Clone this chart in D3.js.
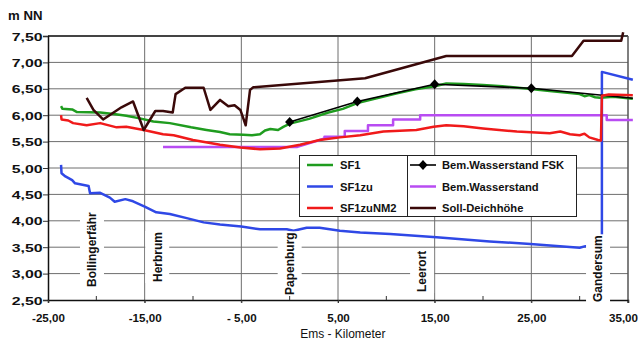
<!DOCTYPE html>
<html>
<head>
<meta charset="utf-8">
<script src="https://cdn.jsdelivr.net/npm/d3@7"></script>
<style>
  html, body { margin: 0; padding: 0; background: #fff; }
  svg { display: block; font-family: "Liberation Sans", Arial, sans-serif; }
</style>
</head>
<body>
<svg id="chart" width="638" height="340"></svg>
<script>
// Axis ticks
const yTicks = [2.5, 3.0, 3.5, 4.0, 4.5, 5.0, 5.5, 6.0, 6.5, 7.0, 7.5];
const yTickLabels = ["2,50", "3,00", "3,50", "4,00", "4,50", "5,00", "5,50", "6,00", "6,50", "7,00", "7,50"];
const xTicks = [-25, -15, -5, 5, 15, 25, 35];
const xTickLabels = ["-25,00", "-15,00", "- 5,00", "5,00", "15,00", "25,00", "35,00"];
const xMinorTicks = [-20, -10, 0, 10, 20, 30];

// Places along the river (Ems-km)
const stations = ["Bollingerfähr", "Herbrum", "Papenburg", "Leerort", "Gandersum"];
const stationKm = [-20.45, -13.7, 0.0, 13.7, 31.9];

// SF1 water level [km, m NN]
const sf1 = [[-23.65,6.17],[-23.5,6.12],[-22.5,6.11],[-22.0,6.06],[-19.6,6.05],[-18.0,6.02],[-16.9,5.99],
  [-15.5,5.94],[-14.1,5.88],[-12.4,5.85],[-10.2,5.77],[-8.6,5.72],[-7.2,5.68],[-6.2,5.64],[-4.8,5.63],
  [-3.9,5.62],[-3.07,5.64],[-2.55,5.71],[-2.0,5.74],[-1.2,5.72],[-0.66,5.78],[0.03,5.84],[2.0,5.93],
  [4.0,6.05],[5.5,6.12],[7.0,6.23],[9.0,6.32],[11.0,6.41],[13.0,6.49],[15.0,6.55],[16.2,6.60],[18.0,6.59],
  [20.0,6.57],[22.0,6.55],[24.7,6.50],[26.9,6.46],[29.0,6.42],[30.0,6.40],[30.5,6.36],[31.0,6.38],
  [31.6,6.34],[32.1,6.33],[33.5,6.35],[35.5,6.31]];

// SF1zu water level
const sf1zu = [[-23.65,5.06],[-23.6,4.90],[-23.2,4.84],[-22.5,4.77],[-22.2,4.71],[-20.8,4.66],[-20.65,4.52],
  [-19.6,4.53],[-18.6,4.44],[-18.1,4.36],[-17.0,4.41],[-16.2,4.37],[-15.0,4.27],[-13.8,4.16],[-12.4,4.13],
  [-10.65,4.05],[-8.9,3.97],[-7.2,3.93],[-5.0,3.89],[-3.07,3.84],[-0.3,3.84],[0.4,3.81],[1.76,3.87],
  [3.1,3.87],[5.2,3.81],[7.3,3.78],[10.4,3.75],[15.2,3.69],[20.7,3.61],[24.9,3.56],[30.0,3.49],
  [30.6,3.52],[31.07,3.50],[32.3,3.48],[32.3,6.82],[35.5,6.67]];

// SF1zuNM2 water level
const sf1zuNM2 = [[-23.65,6.00],[-23.6,5.92],[-22.9,5.90],[-22.4,5.85],[-21.0,5.81],[-19.6,5.85],[-17.9,5.77],
  [-16.9,5.78],[-15.1,5.72],[-13.1,5.64],[-12.0,5.62],[-10.0,5.53],[-7.2,5.44],[-5.1,5.39],[-3.07,5.355],
  [-1.0,5.37],[1.07,5.44],[3.1,5.53],[5.2,5.58],[7.3,5.62],[9.7,5.69],[13.1,5.72],[14.9,5.78],[16.2,5.81],
  [18.0,5.79],[20.0,5.75],[23.5,5.69],[26.9,5.66],[28.0,5.69],[29.0,5.64],[30.0,5.62],[30.5,5.65],
  [31.0,5.58],[31.9,5.53],[32.2,5.52],[32.3,6.37],[33.0,6.39],[35.5,6.38]];

// Design water level (Bem.Wasserstand)
const bemWasserstand = [[-13.1,5.40],[0.8,5.40],[3.6,5.56],[3.6,5.59],[5.7,5.59],[5.7,5.70],[8.1,5.70],
  [8.1,5.81],[10.7,5.81],[10.7,5.92],[13.5,5.92],[13.5,6.00],[32.8,6.00],[32.8,5.91],[35.5,5.91]];

// Design water level FSK
const fskKm = [0, 7, 15, 25, 35.5];
const fskVal = [5.87, 6.26, 6.585, 6.51, 6.32];
const fskMarked = [true, true, true, true, false];

// Required dike height (Soll-Deichhöhe)
const sollDeich = [[-21.0,6.33],[-20.3,6.10],[-19.3,5.92],[-17.4,6.15],[-16.2,6.26],[-15.1,5.72],[-13.9,6.08],
  [-13.1,6.08],[-12.1,6.05],[-11.8,6.40],[-10.8,6.52],[-8.9,6.52],[-8.2,6.10],[-7.2,6.29],[-6.35,6.17],
  [-5.7,6.19],[-5.1,6.10],[-4.55,5.81],[-4.1,6.48],[-3.76,6.53],[7.8,6.70],[16.2,7.12],[29.2,7.12],
  [30.4,7.41],[34.3,7.41],[34.5,7.57]];

const seriesNames = ["SF1", "SF1zu", "SF1zuNM2", "Bem.Wasserstand FSK", "Bem.Wasserstand", "Soll-Deichhöhe"];

// ---- drawing ----
const colors = {
  "SF1": "#1f9c1f", "SF1zu": "#2f48e6", "SF1zuNM2": "#f01a1a",
  "Bem.Wasserstand FSK": "#000000", "Bem.Wasserstand": "#b84cf2", "Soll-Deichhöhe": "#3a0909"
};

const svg = d3.select("#chart");
const x = d3.scaleLinear().domain([-25, 35]).range([48, 628]);
const y = d3.scaleLinear().domain([2.5, 7.5]).range([300, 36]);

// horizontal grid
svg.append("g").selectAll("line").data(yTicks.filter(v => v > 2.5 && v < 7.5)).join("line")
  .attr("x1", x(-25)).attr("x2", x(35)).attr("y1", d => y(d)).attr("y2", d => y(d))
  .attr("stroke", "#6e6e6e").attr("stroke-width", 1);
// vertical grid
svg.append("g").selectAll("line").data(xTicks.filter(v => v > -25 && v < 35)).join("line")
  .attr("x1", d => x(d)).attr("x2", d => x(d)).attr("y1", y(7.5)).attr("y2", y(2.5) + 3)
  .attr("stroke", "#6e6e6e").attr("stroke-width", 1);
// frame: top and right
svg.append("line").attr("x1", x(-25)).attr("x2", x(35)).attr("y1", y(7.5)).attr("y2", y(7.5))
  .attr("stroke", "#444").attr("stroke-width", 2);
svg.append("line").attr("x1", x(35)).attr("x2", x(35)).attr("y1", y(7.5)).attr("y2", y(2.5) + 3)
  .attr("stroke", "#555").attr("stroke-width", 1.5);

// y axis
const yAxis = svg.append("g").attr("transform", `translate(${x(-25)},0)`)
  .call(d3.axisLeft(y).tickValues(yTicks).tickSize(5).tickFormat((d, i) => yTickLabels[i]));
yAxis.select(".domain").attr("stroke", "#111").attr("stroke-width", 1.5);
yAxis.selectAll(".tick line").attr("stroke", "#333");
yAxis.selectAll(".tick text")
  .attr("x", -3.9).attr("dy", "0.35em")
  .attr("transform", "scale(1.38,1)")
  .attr("font-size", 11.5).attr("font-weight", "bold").attr("fill", "#111")
  .attr("font-family", "'Liberation Sans', Arial, sans-serif");

// x axis
const xAxis = svg.append("g").attr("transform", `translate(0,${y(2.5)})`)
  .call(d3.axisBottom(x).tickValues(xTicks).tickSize(3).tickFormat((d, i) => xTickLabels[i]));
xAxis.select(".domain").attr("stroke", "#111").attr("stroke-width", 1.5);
xAxis.selectAll(".tick line").attr("stroke", "#333");
xAxis.selectAll(".tick text")
  .attr("y", 22).attr("dy", 0)
  .attr("font-size", 11.6).attr("font-weight", "bold").attr("fill", "#111")
  .attr("font-family", "'Liberation Sans', Arial, sans-serif");
// the last label sits flush with the right edge
xAxis.selectAll(".tick text").filter(d => d === 35).attr("text-anchor", "end").attr("x", 9.5);
svg.append("g").selectAll("line").data(xMinorTicks).join("line")
  .attr("x1", d => x(d)).attr("x2", d => x(d)).attr("y1", y(2.5)).attr("y2", y(2.5) - 4)
  .attr("stroke", "#333").attr("stroke-width", 1);

// axis titles
svg.append("text").attr("x", 8).attr("y", 20).attr("font-size", 12).attr("font-weight", "bold")
  .attr("fill", "#111").attr("transform", "translate(8,0) scale(1.1,1) translate(-8,0)")
  .text("m  NN");
svg.append("text").attr("x", x(5.5)).attr("y", 338).attr("text-anchor", "middle")
  .attr("font-size", 12).attr("fill", "#111").text("Ems - Kilometer");

// series lines
const line = d3.line().x(d => x(d[0])).y(d => y(d[1]));
const fskPoints = fskKm.map((k, i) => [k, fskVal[i]]);
const diamond = "M0,-5L4.6,0L0,5L-4.6,0Z";
const layers = [
  ["Bem.Wasserstand", bemWasserstand, 2.5],
  ["SF1", sf1, 2.5],
  ["SF1zu", sf1zu, 2.5],
  ["Bem.Wasserstand FSK", fskPoints, 1.6],
  ["SF1zuNM2", sf1zuNM2, 2.5],
  ["Soll-Deichhöhe", sollDeich, 2.5]
];
const gSeries = svg.append("g");
layers.forEach(([name, data, w]) => {
  gSeries.append("path").datum(data).attr("d", line)
    .attr("fill", "none").attr("stroke", colors[name]).attr("stroke-width", w)
    .attr("stroke-linejoin", "round");
  if (name === "Bem.Wasserstand FSK") {
    gSeries.selectAll("path.diamond").data(fskPoints.filter((p, i) => fskMarked[i])).join("path")
      .attr("class", "diamond")
      .attr("d", diamond)
      .attr("transform", d => `translate(${x(d[0])},${y(d[1])})`)
      .attr("fill", "#000");
  }
});

// station labels with white backing
const stationLift = [13, 18, 5, 8, -2];
const gSt = svg.append("g");
stations.forEach((s, i) => {
  const g = gSt.append("g").attr("transform", `translate(${x(stationKm[i])},${y(2.5) - stationLift[i]}) rotate(-90)`);
  const t = g.append("text").attr("x", 0).attr("y", 4.3)
    .attr("font-size", 12).attr("font-weight", "bold").attr("fill", "#111").text(s);
  const len = t.node().getComputedTextLength();
  g.insert("rect", "text").attr("x", -1).attr("y", -12).attr("width", len + 2).attr("height", 24)
    .attr("fill", "#fff");
});

// legend
const lg = svg.append("g");
lg.append("rect").attr("x", 299.5).attr("y", 155.5).attr("width", 277).attr("height", 61)
  .attr("fill", "#fff").attr("stroke", "#222").attr("stroke-width", 1);
lg.append("line").attr("x1", 407.5).attr("x2", 407.5).attr("y1", 155.5).attr("y2", 216.5)
  .attr("stroke", "#222").attr("stroke-width", 1);
const rowY = [165, 186.5, 208];
seriesNames.forEach((name, i) => {
  const col = Math.floor(i / 3), row = i % 3;
  const x0 = col === 0 ? 307 : 410, tx = col === 0 ? 340 : 442;
  const yy = rowY[row];
  lg.append("line").attr("x1", x0).attr("x2", x0 + 26).attr("y1", yy).attr("y2", yy)
    .attr("stroke", colors[name]).attr("stroke-width", name === "Bem.Wasserstand FSK" ? 1.6 : 2.5);
  if (name === "Bem.Wasserstand FSK") {
    lg.append("path").attr("d", diamond)
      .attr("transform", `translate(${x0 + 13},${yy})`).attr("fill", "#000");
  }
  lg.append("text").attr("x", tx).attr("y", yy + 4).attr("font-size", 11.2).attr("font-weight", "bold")
    .attr("fill", "#111").text(name);
});
</script>
</body>
</html>
